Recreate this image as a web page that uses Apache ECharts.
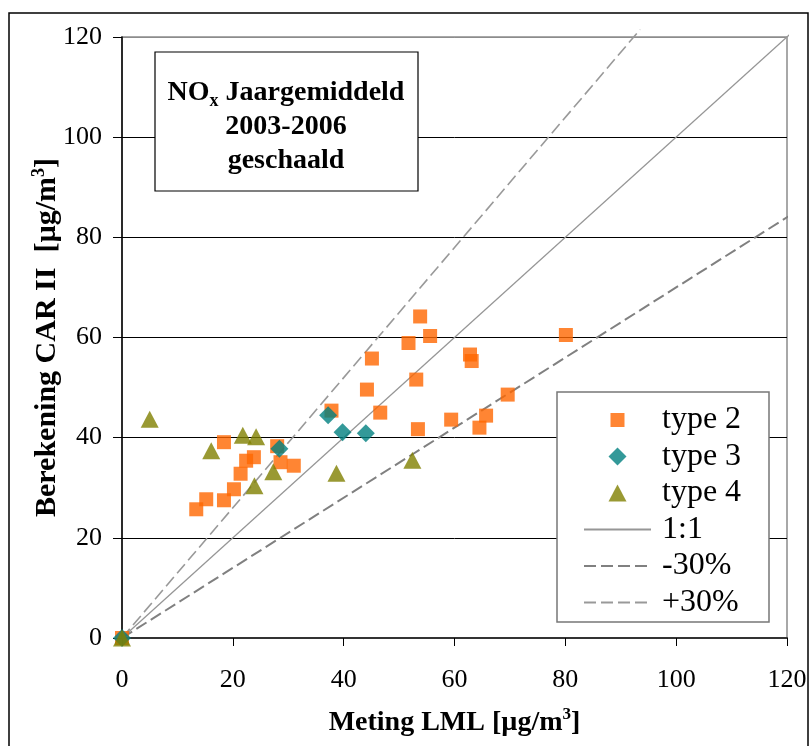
<!DOCTYPE html>
<html>
<head>
<meta charset="utf-8">
<script src="https://cdn.jsdelivr.net/npm/echarts@6/dist/echarts.min.js"></script>
<style>
  html, body { margin: 0; padding: 0; background: #fff; }
  #chart { width: 810px; height: 746px; }
</style>
</head>
<body>
<div id="chart"></div>
<script>
// Measured NOx (LML) vs. calculated NOx (CAR II), annual means 2003-2006, in µg/m3
const type2 = [
  [0, 0], [13.4, 25.7], [15.2, 27.7], [18.4, 27.5], [18.4, 39.1], [20.2, 29.7],
  [21.4, 32.8], [22.4, 35.4], [23.8, 36.1], [28.0, 38.3], [28.6, 35.1], [31.0, 34.4],
  [37.8, 45.4], [44.2, 49.6], [45.1, 55.8], [46.6, 45.0], [51.7, 58.9], [53.1, 51.6],
  [53.4, 41.7], [53.8, 64.2], [55.6, 60.3], [59.4, 43.6], [62.8, 56.6], [63.1, 55.3],
  [64.5, 42.0], [65.7, 44.4], [69.6, 48.6], [80.1, 60.5]
];
const type3 = [
  [0, 0], [28.4, 37.8], [37.2, 44.5], [39.8, 41.1], [44.0, 40.9]
];
const type4 = [
  [0, 0], [5.0, 43.7], [16.1, 37.4], [21.8, 40.5], [24.2, 40.2], [23.9, 30.4],
  [27.3, 33.2], [38.7, 32.9], [52.4, 35.5]
];

// Reference lines: 1:1, -30 % and +30 %
const oneToOne = [[0, 0], [122, 122]];
const minus30 = [[0, 0], [123, 86.1]];
const plus30 = [[0, 0], [93.5, 121.5]];

const axisTicks = [0, 20, 40, 60, 80, 100, 120];
const seriesNames = ['type 2', 'type 3', 'type 4', '1:1', '-30%', '+30%'];

const FONT = '"Liberation Serif", "Times New Roman", serif';
const hidden = { color: 'rgba(0,0,0,0)', borderWidth: 0, opacity: 0 };

// Legend marker glyphs, drawn inside a fixed 67 x 18 frame so they keep their own size
const FRAME = 'M0,0M67,18';
const iconSquare = 'path://' + FRAME + 'M26.5,2h14v14h-14Z';
const iconDiamond = 'path://' + FRAME + 'M33.5,0L42.5,9L33.5,18L24.5,9Z';
const iconTriangle = 'path://' + FRAME + 'M33.5,0.5L42.5,17.5L24.5,17.5Z';

const chart = echarts.init(document.getElementById('chart'), null, { renderer: 'canvas' });

chart.setOption({
  animation: false,
  backgroundColor: '#fff',
  textStyle: { fontFamily: FONT, color: '#000' },
  grid: {
    left: 122, top: 37, right: 23, bottom: 108,
    show: true, borderColor: '#8c8c8c', borderWidth: 1.5
  },
  xAxis: {
    type: 'value',
    min: axisTicks[0], max: axisTicks[axisTicks.length - 1], interval: 20,
    name: 'Meting LML [µg/m{sup|3}]',
    nameLocation: 'middle',
    nameMoveOverlap: false,
    nameGap: 68,
    nameTextStyle: {
      fontFamily: FONT, fontSize: 28, fontWeight: 'bold', color: '#000',
      rich: {
        sup: { fontFamily: FONT, fontSize: 17, fontWeight: 'bold', verticalAlign: 'top', padding: [0, 0, 16, 0] }
      }
    },
    axisLine: { show: true, onZero: false, lineStyle: { color: '#333', width: 2 } },
    axisTick: { show: true, inside: false, length: 8, lineStyle: { color: '#000', width: 1 } },
    axisLabel: { fontFamily: FONT, fontSize: 26, color: '#000', margin: 29 },
    splitLine: { show: false }
  },
  yAxis: {
    type: 'value',
    min: axisTicks[0], max: axisTicks[axisTicks.length - 1], interval: 20,
    name: 'Berekening CAR II  [µg/m{sup|3}]',
    nameLocation: 'middle',
    nameMoveOverlap: false,
    nameGap: 58,
    nameTextStyle: {
      fontFamily: FONT, fontSize: 30, fontWeight: 'bold', color: '#000',
      rich: {
        sup: { fontFamily: FONT, fontSize: 18, fontWeight: 'bold', verticalAlign: 'top', padding: [0, 0, 16, 0] }
      }
    },
    axisLine: { show: true, onZero: false, lineStyle: { color: '#000', width: 1.5 } },
    axisTick: { show: true, inside: false, length: 9, lineStyle: { color: '#000', width: 1 } },
    axisLabel: { fontFamily: FONT, fontSize: 26, color: '#000', margin: 20 },
    splitLine: {
      show: true,
      lineStyle: { color: ['#000', '#000', '#000', '#000', '#000', '#000', '#8c8c8c'], width: 1 }
    }
  },
  legend: {
    orient: 'vertical',
    left: 557, top: 392,
    padding: [12, 10, 7, 26],
    itemWidth: 67,
    itemHeight: 18,
    itemGap: 4.5,
    z: 8,
    data: [
      { name: seriesNames[0], icon: iconSquare },
      { name: seriesNames[1], icon: iconDiamond },
      { name: seriesNames[2], icon: iconTriangle },
      { name: seriesNames[3], itemStyle: hidden },
      { name: seriesNames[4], itemStyle: hidden },
      { name: seriesNames[5], itemStyle: hidden }
    ],
    textStyle: { fontFamily: FONT, fontSize: 32, color: '#000', lineHeight: 30, padding: [0, 0, 0, 6] }
  },
  graphic: [
    // outer frame
    {
      type: 'rect', z: 1, silent: true,
      shape: { x: 9, y: 13, width: 799, height: 760 },
      style: { fill: null, stroke: '#000', lineWidth: 1.5 }
    },
    // legend box
    {
      type: 'rect', z: 6, silent: true,
      shape: { x: 557, y: 392, width: 212, height: 230 },
      style: { fill: '#fff', stroke: '#777', lineWidth: 1.5 }
    },
    // title box
    {
      type: 'rect', z: 6, silent: true,
      shape: { x: 155, y: 52, width: 263, height: 139 },
      style: { fill: '#fff', stroke: '#000', lineWidth: 1.2 }
    },
    {
      type: 'text', z: 7, silent: true,
      x: 286, y: 76,
      style: {
        x: 0, y: 0,
        text: '{t|NO}{sub|x}{t| Jaargemiddeld}\n{t|2003-2006}\n{t|geschaald}',
        align: 'center',
        verticalAlign: 'top',
        fill: '#000',
        rich: {
          t: { fontFamily: FONT, fontSize: 28, fontWeight: 'bold', lineHeight: 34, fill: '#000' },
          sub: { fontFamily: FONT, fontSize: 18, fontWeight: 'bold', lineHeight: 34, verticalAlign: 'bottom', padding: [8, 0, 0, 0], fill: '#000' }
        }
      }
    }
  ],
  series: [
    {
      name: 'type 2', type: 'scatter', z: 4, clip: false,
      symbol: 'rect', symbolSize: 14,
      itemStyle: { color: '#FF6600' },
      data: type2
    },
    {
      name: 'type 3', type: 'scatter', z: 4, clip: false,
      symbol: 'diamond', symbolSize: [18, 18],
      itemStyle: { color: '#008080' },
      data: type3
    },
    {
      name: 'type 4', type: 'scatter', z: 4, clip: false,
      symbol: 'triangle', symbolSize: [18, 17],
      itemStyle: { color: '#808000' },
      data: type4
    },
    {
      name: '1:1', type: 'line', z: 3, clip: false,
      symbol: 'none',
      lineStyle: { color: '#969696', width: 1.3, type: 'solid' },
      itemStyle: { color: '#969696' },
      data: oneToOne
    },
    {
      name: '-30%', type: 'line', z: 3, clip: false,
      symbol: 'none',
      lineStyle: { color: '#808080', width: 2, type: [12, 5] },
      itemStyle: { color: '#808080' },
      data: minus30
    },
    {
      name: '+30%', type: 'line', z: 3, clip: false,
      symbol: 'none',
      lineStyle: { color: '#999', width: 1.6, type: [12, 5] },
      itemStyle: { color: '#999' },
      data: plus30
    }
  ]
});
</script>
</body>
</html>
